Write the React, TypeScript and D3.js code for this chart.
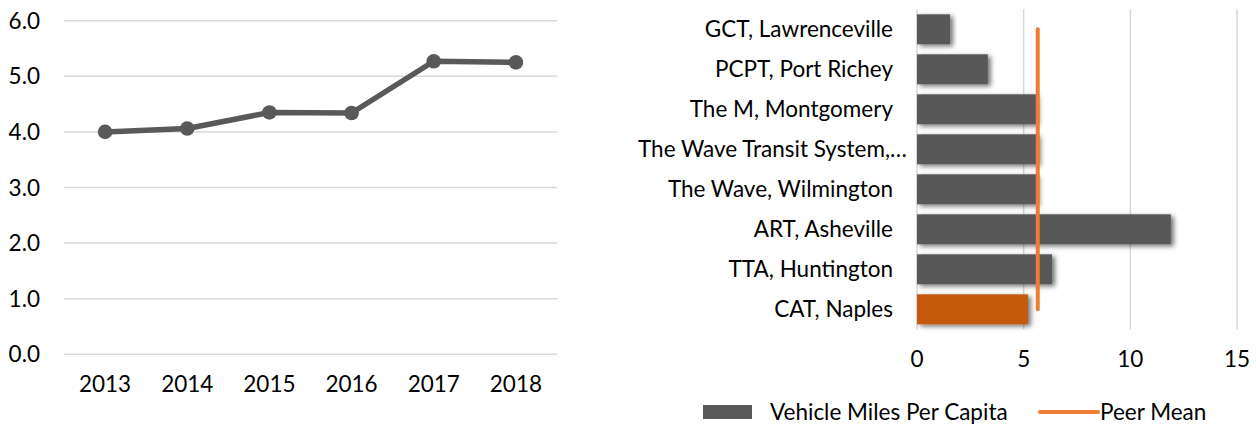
import React from 'react'
import * as d3 from 'd3'

// left panel: yearly values
const years = ['2013', '2014', '2015', '2016', '2017', '2018']
const yearValues = [4.0, 4.06, 4.35, 4.34, 5.27, 5.25]
const yTicks = [0, 1, 2, 3, 4, 5, 6]

// right panel: peers
const agencies = [
  'GCT, Lawrenceville',
  'PCPT, Port Richey',
  'The M, Montgomery',
  'The Wave Transit System,…',
  'The Wave, Wilmington',
  'ART, Asheville',
  'TTA, Huntington',
  'CAT, Naples',
]
const vehicleMiles = [1.55, 3.32, 5.58, 5.65, 5.6, 11.9, 6.33, 5.2]
const peerMean = 5.66
const highlight = 'CAT, Naples'
const xTicks = [0, 5, 10, 15]

const FONT = 'Lato, Carlito, Calibri, sans-serif'
const FS = 22.5
const GREY = '#595959'
const GRID = '#D9D9D9'
const ORANGE_BAR = '#C55A11'
const ORANGE_LINE = '#ED7D31'

export default function App() {
  // line chart scales
  const xYear = d3.scaleBand().domain(years).range([64, 557])
  const yVal = d3.scaleLinear().domain([0, 6]).range([354.3, 20.7])
  const yearX = (d: string) => (xYear(d) as number) + xYear.bandwidth() / 2
  const line = d3
    .line<number>()
    .x((_, i) => yearX(years[i]))
    .y(d => yVal(d))

  // bar chart scales
  const xMiles = d3.scaleLinear().domain([0, 15]).range([917, 1237])
  const yCat = d3
    .scaleBand()
    .domain(agencies)
    .range([9.3, 329.3])
    .paddingInner(0.25)
    .paddingOuter(0.125)
  const catMid = (d: string) => (yCat(d) as number) + yCat.bandwidth() / 2
  const meanLine = d3
    .line<string>()
    .x(() => xMiles(peerMean))
    .y(d => catMid(d))

  return (
    <div style={{ position: 'absolute', left: 0, top: 0 }}>
      <svg width={1256} height={426} style={{ display: 'block', fontFamily: FONT }}>
        <defs>
          <filter id="shadow" x="-10%" y="-40%" width="130%" height="180%">
            <feDropShadow dx={3} dy={2} stdDeviation={2.5} floodColor="#000" floodOpacity={0.55} />
          </filter>
        </defs>
        <rect width={1256} height={426} fill="#fff" />

        {/* left: line chart */}
        <g>
          {yTicks.map(t => (
            <g key={t}>
              <line x1={64} x2={557} y1={yVal(t)} y2={yVal(t)} stroke={GRID} strokeWidth={1.5} />
              <text x={40} y={yVal(t)} dy="0.36em" textAnchor="end" fontSize={FS} fill="#000">
                {d3.format('.1f')(t)}
              </text>
            </g>
          ))}
          {years.map(y => (
            <text key={y} x={yearX(y)} y={392} textAnchor="middle" fontSize={FS} fill="#000">
              {y}
            </text>
          ))}
          <path
            d={line(yearValues) || ''}
            fill="none"
            stroke={GREY}
            strokeWidth={5.5}
            strokeLinejoin="round"
            strokeLinecap="round"
          />
          {yearValues.map((v, i) => (
            <circle key={i} cx={yearX(years[i])} cy={yVal(v)} r={7.3} fill={GREY} />
          ))}
        </g>

        {/* right: bar chart */}
        <g>
          {xTicks.map(t => (
            <g key={t}>
              <line x1={xMiles(t)} x2={xMiles(t)} y1={9.3} y2={329.3} stroke={GRID} strokeWidth={1.5} />
              <text x={xMiles(t)} y={367} textAnchor="middle" fontSize={FS} fill="#000">
                {t}
              </text>
            </g>
          ))}
          {agencies.map((a, i) => (
            <rect
              key={a}
              x={xMiles(0)}
              y={yCat(a)}
              width={xMiles(vehicleMiles[i]) - xMiles(0)}
              height={yCat.bandwidth()}
              fill={a === highlight ? ORANGE_BAR : GREY}
              filter="url(#shadow)"
            />
          ))}
          <path
            d={meanLine(agencies) || ''}
            fill="none"
            stroke={ORANGE_LINE}
            strokeWidth={4}
            strokeLinecap="round"
          />
          {agencies.map(a => {
            const cut = a.endsWith('…')
            return (
              <text
                key={a}
                x={cut ? 638 : 893}
                y={catMid(a)}
                dy="0.36em"
                textAnchor={cut ? 'start' : 'end'}
                fontSize={FS}
                fill="#000"
              >
                {a}
              </text>
            )
          })}
        </g>

        {/* legend */}
        <g fontSize={FS} fill="#000">
          <rect x={703} y={405} width={49} height={14} fill={GREY} />
          <text x={770} y={420}>Vehicle Miles Per Capita</text>
          <line x1={1040} x2={1098} y1={412} y2={412} stroke={ORANGE_LINE} strokeWidth={4} strokeLinecap="round" />
          <text x={1100} y={420}>Peer Mean</text>
        </g>
      </svg>
    </div>
  )
}
